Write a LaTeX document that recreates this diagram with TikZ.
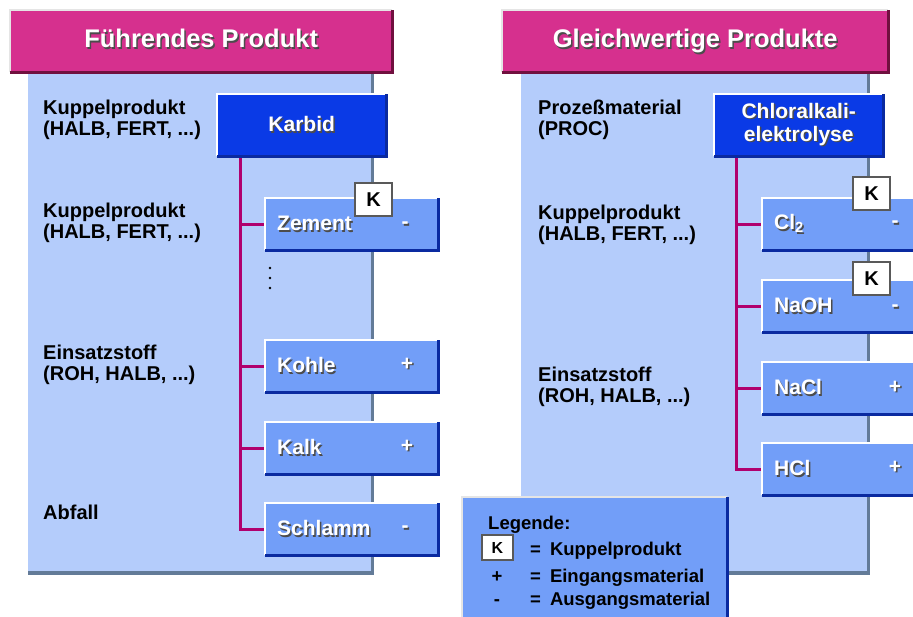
\documentclass[tikz,border=0pt]{standalone}
\usepackage{fontspec}
\setmainfont{Liberation Sans}
\usetikzlibrary{positioning}
\definecolor{panelblue}{HTML}{B4CCFB}
\definecolor{boxblue}{HTML}{729EF8}
\definecolor{karbidblue}{HTML}{0A3AE6}
\definecolor{edgeblue}{HTML}{0A2AA0}
\definecolor{headmag}{HTML}{D6308E}
\definecolor{headdark}{HTML}{70103F}
\definecolor{branchmag}{HTML}{B0006E}
\definecolor{panelshade}{HTML}{637B98}
\newcommand\shtxt[1]{\makebox[0pt][l]{\kern1.5pt\raisebox{-1.5pt}{\textcolor{black!70}{#1}}}#1}

\begin{document}
\begin{tikzpicture}[x=1pt,y=-1pt]
    \tikzset{
        header/.style={fill=headmag, minimum height=62pt, anchor=north west, text=white,
            text height=18pt, text depth=5pt, font=\fontsize{25.5}{27}\selectfont\bfseries},
        mainbox/.style={fill=karbidblue, minimum width=169pt, minimum height=62pt, anchor=north west,
            text=white, align=center, inner sep=0pt, font=\fontsize{21}{23}\selectfont\bfseries},
        prodbox/.style={fill=boxblue, minimum height=52pt, text width=149pt, inner xsep=12pt,
            anchor=north west, text=white, align=left, font=\fontsize{21}{22}\selectfont\bfseries},
        sign/.style={text=white, inner sep=0pt, font=\fontsize{21}{22}\selectfont\bfseries},
        kbox/.style={fill=white, draw=black!65, line width=2pt, minimum width=37pt, minimum height=33pt,
            inner sep=0pt, font=\fontsize{20}{20}\selectfont\bfseries},
        lbl/.style={anchor=north west, inner sep=0pt, align=left, font=\fontsize{20}{20.5}\selectfont\bfseries},
        legtxt/.style={inner sep=0pt, font=\fontsize{18.5}{20}\selectfont\bfseries},
        branch/.style={draw=branchmag, line width=3pt}
    }
    \useasboundingbox (0,0) rectangle (913,616);
    \clip (0,0) rectangle (913,616);
    % panels
    \fill[panelshade] (28,62) rectangle (374,575);
    \fill[panelblue] (28,62) rectangle (371,571);
    \fill[panelshade] (521,62) rectangle (870,575);
    \fill[panelblue] (521,62) rectangle (867,571);
    % headers
    \node[header, minimum width=382pt] (hleft) at (10,10) {\shtxt{Führendes Produkt}};
    \node[header, minimum width=386pt] (hright) at (502,10) {\shtxt{Gleichwertige Produkte}};
    \foreach \h in {hleft,hright}{
        \draw[line width=2.5pt, black!10] (\h.south west) |- (\h.north east);
        \draw[line width=3pt, headdark] (\h.south west) -| (\h.north east);
    }
    % main products
    \node[mainbox] (karbid) at (217,94) {\shtxt{Karbid}};
    \node[mainbox] (chlor) at (714,94) {\shtxt{Chloralkali-}\\\shtxt{elektrolyse}};
    \coordinate (trunkL) at (240,156);
    \coordinate (trunkR) at (736,156);
    % products
    \node[prodbox] (zement) at (265,198) {\shtxt{Zement}};
    \node[prodbox] (kohle) at (265,340) {\shtxt{Kohle}};
    \node[prodbox] (kalk) at (265,422) {\shtxt{Kalk}};
    \node[prodbox] (schlamm) at (265,503) {\shtxt{Schlamm}};
    \node[prodbox] (cl) at (762,198) {\shtxt{Cl\textsubscript{2}}};
    \node[prodbox] (naoh) at (762,280) {\shtxt{NaOH}};
    \node[prodbox] (nacl) at (762,362) {\shtxt{NaCl}};
    \node[prodbox] (hcl) at (762,443) {\shtxt{HCl}};
    \foreach \b in {zement,kohle,kalk,schlamm}
        \draw[branch] (trunkL) |- (\b.west);
    \foreach \b in {cl,naoh,nacl,hcl}
        \draw[branch] (trunkR) |- (\b.west);
    \foreach \b in {karbid,chlor,zement,kohle,kalk,schlamm,cl,naoh,nacl,hcl}{
        \draw[line width=2.5pt, white] (\b.south west) |- (\b.north east);
        \draw[line width=3pt, edgeblue] (\b.south west) -| (\b.north east);
    }
    \node[sign] (szement) at (405,226) {\shtxt{-}};
    \node[sign] (skohle) at (407,365) {\shtxt{+}};
    \node[sign] (skalk) at (407,447) {\shtxt{+}};
    \node[sign] (sschlamm) at (405,530) {\shtxt{-}};
    \node[sign] (scl) at (895,225) {\shtxt{-}};
    \node[sign] (snaoh) at (895,309) {\shtxt{-}};
    \node[sign] (snacl) at (895,388) {\shtxt{+}};
    \node[sign] (shcl) at (895,468) {\shtxt{+}};
    \node[kbox] (kzement) at (373.5,199.5) {K};
    \node[kbox] (kcl) at (871.5,193.5) {K};
    \node[kbox] (knaoh) at (871.5,278.5) {K};
    \foreach \y in {268,278,288}
        \fill (270,\y) circle (1.3);
    % labels
    \node[lbl] (l1) at (43,100) {Kuppelprodukt\\(HALB, FERT, ...)};
    \node[lbl] (l2) at (43,203) {Kuppelprodukt\\(HALB, FERT, ...)};
    \node[lbl] (l3) at (43,345) {Einsatzstoff\\(ROH, HALB, ...)};
    \node[lbl] (l4) at (43,505) {Abfall};
    \node[lbl] (r1) at (538,100) {Prozeßmaterial\\(PROC)};
    \node[lbl] (r2) at (538,205) {Kuppelprodukt\\(HALB, FERT, ...)};
    \node[lbl] (r3) at (538,367) {Einsatzstoff\\(ROH, HALB, ...)};
    % legend
    \node[fill=boxblue, minimum width=265pt, minimum height=140pt, anchor=north west] (legend) at (462,497) {};
    \draw[line width=2.5pt, black!10] (legend.south west) |- (legend.north east);
    \draw[line width=3pt, edgeblue] (legend.north east) -- (legend.south east);
    \node[legtxt, anchor=north west] (leghead) at (488,516) {Legende:};
    \node[kbox, minimum width=31pt, minimum height=25pt, font=\fontsize{16}{16}\selectfont\bfseries] (legk) at (497.5,547.5) {K};
    \node[legtxt, anchor=base west] (legk2) at (530,555) {=\hspace{9pt}Kuppelprodukt};
    \node[legtxt, anchor=base] (legplus) at (497,582) {+};
    \node[legtxt, anchor=base west] (legplus2) at (530,582) {=\hspace{9pt}Eingangsmaterial};
    \node[legtxt, anchor=base] (legminus) at (497,605) {-};
    \node[legtxt, anchor=base west] (legminus2) at (530,605) {=\hspace{9pt}Ausgangsmaterial};
\end{tikzpicture}
\end{document}
